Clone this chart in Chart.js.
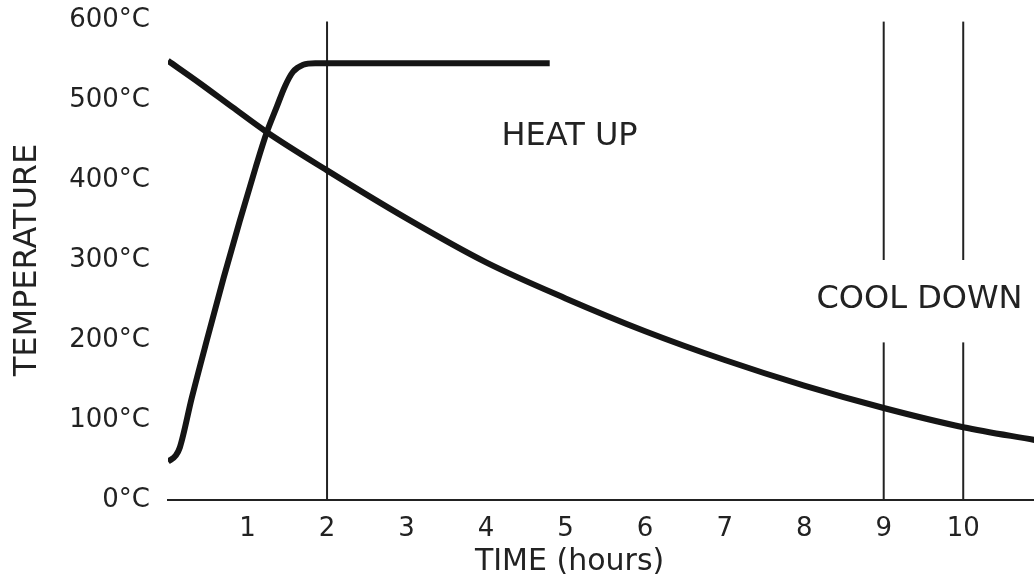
<!DOCTYPE html>
<html lang="en">

<head>
    <meta charset="UTF-8" />
    <title>Heat up / cool down</title>
    <style>
        body {
            margin: 0;
            background: #fff;
        }
        #chart {
            display: block;
        }
    </style>
</head>

<body>
    <canvas id="chart" width="1034" height="584"></canvas>

    <script src="https://cdn.jsdelivr.net/npm/chart.js"></script>
    <script>
        // heat up curve (hours, degC)
        const heatHours = [0, 0.1, 0.15, 0.3, 0.5, 0.7, 0.9, 1.1, 1.24, 1.37, 1.47, 1.57, 1.7, 1.85, 4.8];
        const heatTemps = [48, 56, 66, 128, 204, 278, 348, 415, 459, 492, 517, 535, 544, 546, 546];

        // cool down curve
        const coolHours = [0, 0.4, 0.81, 1.24, 2, 3, 4, 5, 6, 7, 8, 9, 10, 10.9];
        const coolTemps = [549, 521, 491, 460, 412, 352, 297, 252, 211, 175, 143, 115, 91, 75];

        // vertical marker lines (9 and 10 are broken around the label)
        const guideHours = [2, 9, 9, 10, 10];
        const guideLow = [0, 0, 300, 0, 300];
        const guideHigh = [598, 197, 598, 197, 598];

        const tempTicks = [0, 100, 200, 300, 400, 500, 600];
        const hourTicks = [1, 2, 3, 4, 5, 6, 7, 8, 9, 10];

        const notes = ['HEAT UP', 'COOL DOWN'];
        const noteHours = [5.05, 9.45];
        const noteTemps = [454, 250];

        const font = "'DejaVu Sans', sans-serif";
        const ink = '#151515';
        const textInk = '#222';

        function toPoints(xs, ys) {
            return xs.map((x, i) => ({ x: x, y: ys[i] }));
        }

        const datasets = [
            {
                data: toPoints(heatHours, heatTemps),
                borderColor: ink,
                borderWidth: 6,
                cubicInterpolationMode: 'monotone',
            },
            {
                data: toPoints(coolHours, coolTemps),
                borderColor: ink,
                borderWidth: 6,
                cubicInterpolationMode: 'monotone',
            }
        ];
        guideHours.forEach((h, i) => {
            datasets.push({
                data: [{ x: h, y: guideLow[i] }, { x: h, y: guideHigh[i] }],
                borderColor: '#222',
                borderWidth: 2,
            });
        });

        // text labels drawn on top of the plot
        const notesPlugin = {
            id: 'notes',
            afterDraw(chart) {
                const ctx = chart.ctx;
                const xs = chart.scales.x;
                const ys = chart.scales.y;
                ctx.save();
                ctx.fillStyle = textInk;
                ctx.textAlign = 'center';
                ctx.textBaseline = 'middle';
                ctx.font = '32px ' + font;
                notes.forEach((t, i) => {
                    ctx.fillText(t, xs.getPixelForValue(noteHours[i]), ys.getPixelForValue(noteTemps[i]));
                });
                ctx.font = '30px ' + font;
                ctx.fillText('TIME (hours)', xs.getPixelForValue(5.05), chart.height - 22);
                ctx.restore();
            }
        };

        new Chart(document.getElementById('chart'), {
            type: 'scatter',
            data: { datasets: datasets },
            plugins: [notesPlugin],
            options: {
                responsive: false,
                animation: false,
                showLine: true,
                elements: {
                    point: { radius: 0, hoverRadius: 0 },
                    line: { borderCapStyle: 'butt' }
                },
                layout: { padding: { top: 20, right: 0, left: 0, bottom: 0 } },
                plugins: {
                    legend: { display: false },
                    tooltip: { enabled: false }
                },
                scales: {
                    x: {
                        type: 'linear',
                        min: 0,
                        max: 10.89,
                        grid: { display: false },
                        border: { display: true, color: '#222', width: 2 },
                        afterBuildTicks: (scale) => {
                            scale.ticks = hourTicks.map(v => ({ value: v }));
                        },
                        afterFit: (scale) => {
                            scale.height = 84;
                            scale.paddingLeft = 0;
                            scale.paddingRight = 0;
                        },
                        ticks: {
                            autoSkip: false,
                            maxRotation: 0,
                            padding: 6,
                            color: textInk,
                            font: { family: font, size: 26 },
                            callback: (v) => String(v)
                        }
                    },
                    y: {
                        min: 0,
                        max: 600,
                        grid: { display: false },
                        border: { display: false },
                        afterBuildTicks: (scale) => {
                            scale.ticks = tempTicks.map(v => ({ value: v }));
                        },
                        afterFit: (scale) => {
                            scale.width = 168;
                            scale.paddingTop = 0;
                            scale.paddingBottom = 0;
                        },
                        ticks: {
                            padding: 10,
                            color: textInk,
                            font: { family: font, size: 26 },
                            callback: (v) => v + '°C'
                        },
                        title: {
                            display: true,
                            text: 'TEMPERATURE',
                            color: textInk,
                            padding: { top: 8, bottom: 0 },
                            font: { family: font, size: 32 }
                        }
                    }
                }
            }
        });
    </script>
</body>

</html>
